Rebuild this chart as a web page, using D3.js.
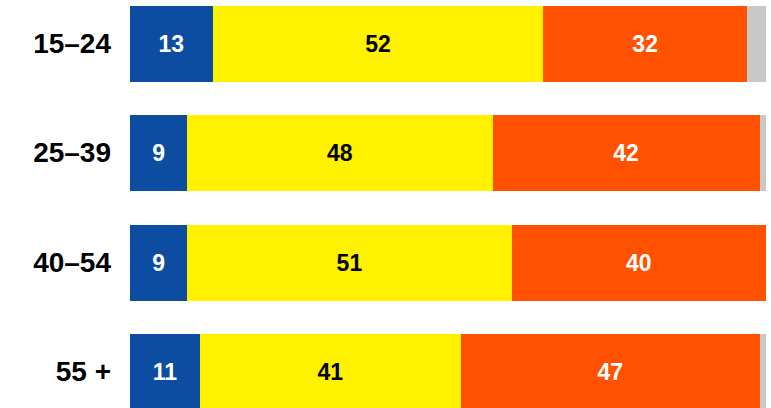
<!DOCTYPE html>
<html>
<head>
<meta charset="utf-8">
<script src="https://cdn.jsdelivr.net/npm/d3@7"></script>
<style>
  html, body { margin: 0; padding: 0; background: #fff; }
  svg { display: block; }
</style>
</head>
<body>
<svg id="chart" width="771" height="408"></svg>
<script>
const categories = ["15–24", "25–39", "40–54", "55 +"];
const seriesA = [13, 9, 9, 11];
const seriesB = [52, 48, 51, 41];
const seriesC = [32, 42, 40, 47];
const seriesD = [3, 1, 0, 1];
const seriesKeys = ["a", "b", "c", "d"];
const colors = ["#0D4DA1", "#FFF100", "#FF5100", "#C8C8C8"];
const labelColors = ["#ffffff", "#000000", "#ffffff", null];

const rows = categories.map((c, i) => ({cat: c, a: seriesA[i], b: seriesB[i], c: seriesC[i], d: seriesD[i]}));

const svg = d3.select("#chart");
const x = d3.scaleLinear().domain([0, 100]).range([130, 766]);
const y = d3.scaleBand().domain(categories).range([6, 410]).paddingInner(0.305).paddingOuter(0);

const stack = d3.stack().keys(seriesKeys);
const stacked = stack(rows);

const groups = svg.selectAll("g.series").data(stacked).join("g")
  .attr("class", "series")
  .attr("fill", (d, i) => colors[i]);

groups.selectAll("rect").data(d => d).join("rect")
  .attr("x", d => x(d[0]))
  .attr("y", d => y(d.data.cat))
  .attr("width", d => Math.max(0, x(d[1]) - x(d[0])))
  .attr("height", y.bandwidth())
  .attr("shape-rendering", "crispEdges");

stacked.forEach((s, i) => {
  if (!labelColors[i]) return;
  svg.append("g").selectAll("text").data(s).join("text")
    .attr("x", d => (x(d[0]) + x(d[1])) / 2)
    .attr("y", d => y(d.data.cat) + y.bandwidth() / 2)
    .attr("dy", "0.35em")
    .attr("text-anchor", "middle")
    .attr("fill", labelColors[i])
    .style("font-family", "'Liberation Sans', Arial, sans-serif")
    .style("font-weight", "bold")
    .style("font-size", "23px")
    .text(d => d[1] - d[0]);
});

const yAxis = d3.axisLeft(y).tickSize(0).tickPadding(0);
const ax = svg.append("g").attr("transform", "translate(111,0)").call(yAxis);
ax.select(".domain").remove();
ax.selectAll("text")
  .attr("fill", "#000")
  .style("font-family", "'Liberation Sans', Arial, sans-serif")
  .style("font-weight", "bold")
  .style("font-size", "28px");
</script>
</body>
</html>
